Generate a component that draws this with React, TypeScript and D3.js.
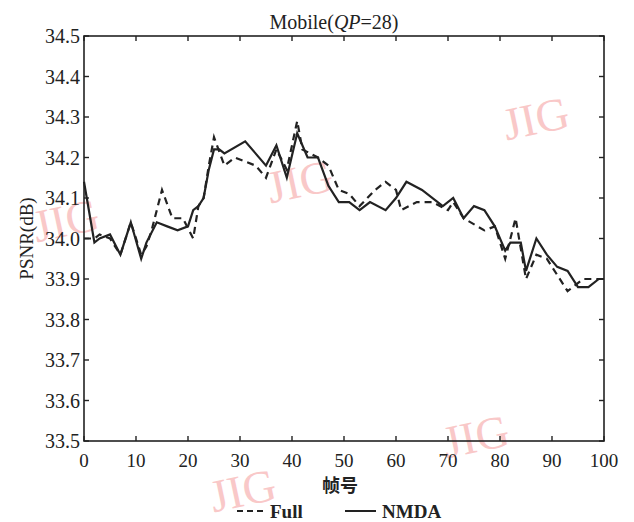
import React from "react";
import * as d3 from "d3";

const nmdaFrames = [0, 2, 3, 5, 7, 9, 11, 12, 14, 16, 18, 20, 21, 22, 23, 24, 25, 26, 27, 31, 35, 37, 39, 41, 43, 45, 47, 49, 51, 53, 55, 58, 60, 62, 65, 69, 71, 73, 75, 77, 79, 81, 82, 84, 85, 87, 89, 91, 93, 95, 97, 99, 100];
const nmdaValues = [34.14, 33.99, 34.0, 34.01, 33.96, 34.04, 33.95, 33.99, 34.04, 34.03, 34.02, 34.03, 34.07, 34.08, 34.1, 34.17, 34.22, 34.22, 34.21, 34.24, 34.18, 34.23, 34.15, 34.26, 34.2, 34.2, 34.13, 34.09, 34.09, 34.07, 34.09, 34.07, 34.1, 34.14, 34.12, 34.08, 34.1, 34.05, 34.08, 34.07, 34.03, 33.97, 33.99, 33.99, 33.92, 34.0, 33.96, 33.93, 33.92, 33.88, 33.88, 33.9, 33.9];

const fullFrames = [0, 2, 3, 5, 7, 9, 11, 12, 13, 15, 17, 19, 21, 22, 23, 24, 25, 27, 29, 33, 35, 37, 39, 41, 42, 45, 47, 49, 51, 53, 56, 58, 60, 61, 64, 67, 70, 71, 73, 77, 79, 81, 83, 85, 87, 89, 93, 96, 99, 100];
const fullValues = [34.0, 34.0, 34.01, 34.0, 33.96, 34.04, 33.96, 33.98, 34.02, 34.12, 34.05, 34.05, 34.0, 34.08, 34.1, 34.18, 34.25, 34.18, 34.2, 34.18, 34.15, 34.22, 34.17, 34.29, 34.22, 34.2, 34.18, 34.12, 34.11, 34.08, 34.12, 34.14, 34.12, 34.07, 34.09, 34.09, 34.07, 34.09, 34.05, 34.02, 34.03, 33.95, 34.05, 33.9, 33.96, 33.95, 33.87, 33.9, 33.9, 33.9];

const xTicks = [0, 10, 20, 30, 40, 50, 60, 70, 80, 90, 100];
const yTicks = [33.5, 33.6, 33.7, 33.8, 33.9, 34.0, 34.1, 34.2, 34.3, 34.4, 34.5];

const watermarks = [
  { x: 536, y: 134 },
  { x: 300, y: 197 },
  { x: 66, y: 236 },
  { x: 243, y: 506 },
  { x: 476, y: 452 },
];

const W = 634;
const H = 522;
const L = 84;
const R = 604;
const T = 36;
const B = 441;

export default function App() {
  const x = d3.scaleLinear().domain([0, 100]).range([L, R]);
  const y = d3.scaleLinear().domain([33.5, 34.5]).range([B, T]);

  const line = d3
    .line<[number, number]>()
    .x((d) => x(d[0]))
    .y((d) => y(d[1]));

  const nmda = line(nmdaFrames.map((f, i) => [f, nmdaValues[i]] as [number, number])) || "";
  const full = line(fullFrames.map((f, i) => [f, fullValues[i]] as [number, number])) || "";

  const font = "'Liberation Serif', 'Times New Roman', serif";
  const tickLen = 5;

  return (
    <svg
      width={W}
      height={H}
      style={{ position: "absolute", left: 0, top: 0, background: "#fff" }}
      fontFamily={font}
    >
      <rect x={0} y={0} width={W} height={H} fill="#fff" />
      {watermarks.map((w, i) => (
        <text
          key={"wm" + i}
          x={w.x}
          y={w.y}
          fontSize={46}
          fill="#f9c8c8"
          textAnchor="middle"
          transform={`rotate(-12 ${w.x} ${w.y - 15})`}
        >
          JIG
        </text>
      ))}
      {/* data lines */}
      <path d={full} fill="none" stroke="#222" strokeWidth={2.2} strokeDasharray="7,5" />
      <path d={nmda} fill="none" stroke="#222" strokeWidth={2.2} />
      {/* frame */}
      <rect x={L} y={T} width={R - L} height={B - T} fill="none" stroke="#222" strokeWidth={1.6} />
      {xTicks.map((t) => (
        <g key={"xt" + t}>
          <line x1={x(t)} x2={x(t)} y1={B} y2={B - tickLen} stroke="#222" strokeWidth={1.4} />
          <line x1={x(t)} x2={x(t)} y1={T} y2={T + tickLen} stroke="#222" strokeWidth={1.4} />
          <text x={x(t)} y={B + 26} fontSize={19} textAnchor="middle" fill="#222">
            {t}
          </text>
        </g>
      ))}
      {yTicks.map((t) => (
        <g key={"yt" + t}>
          <line x1={L} x2={L + tickLen} y1={y(t)} y2={y(t)} stroke="#222" strokeWidth={1.4} />
          <line x1={R} x2={R - tickLen} y1={y(t)} y2={y(t)} stroke="#222" strokeWidth={1.4} />
          <text x={L - 4} y={y(t) + 7} fontSize={20} textAnchor="end" fill="#222">
            {t.toFixed(1)}
          </text>
        </g>
      ))}
      {/* title */}
      <text x={334} y={29} fontSize={20} textAnchor="middle" fill="#222">
        Mobile(<tspan fontStyle="italic">QP</tspan>=28)
      </text>
      {/* y label */}
      <text
        x={0}
        y={0}
        fontSize={19}
        textAnchor="middle"
        fill="#222"
        transform={`translate(33 ${(T + B) / 2}) rotate(-90)`}
      >
        PSNR(dB)
      </text>
      {/* x label */}
      <text
        x={340}
        y={492}
        fontSize={18}
        textAnchor="middle"
        fill="#222"
        fontFamily="'Noto Sans CJK SC', sans-serif"
        fontWeight={700}
      >
        帧号
      </text>
      {/* legend */}
      <line x1={237} x2={267} y1={511} y2={511} stroke="#222" strokeWidth={2} strokeDasharray="6,4" />
      <text x={270} y={518} fontSize={19} fill="#222" fontWeight={700}>
        Full
      </text>
      <line x1={345} x2={376} y1={511} y2={511} stroke="#222" strokeWidth={2} />
      <text x={382} y={518} fontSize={19} fill="#222" fontWeight={700}>
        NMDA
      </text>
    </svg>
  );
}
